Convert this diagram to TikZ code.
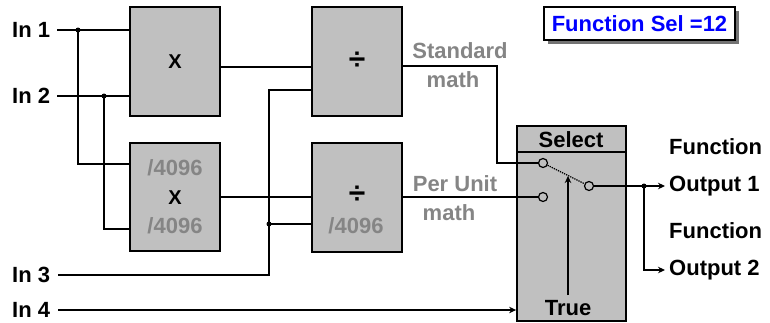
\documentclass[tikz,border=0pt]{standalone}
\usepackage{fontspec}
\setmainfont{Liberation Sans}
\usetikzlibrary{arrows.meta}
\definecolor{boxgray}{RGB}{192,192,192}
\definecolor{txtgray}{RGB}{133,133,133}
\definecolor{selblue}{RGB}{0,0,255}
\tikzset{
  wire/.style={line width=1.7pt, black},
  arr/.style={wire, -{Stealth[length=7pt,width=6.5pt]}},
  opbox/.style={draw=black, line width=1.8pt, fill=boxgray, minimum width=90pt, inner sep=0pt},
  lbl/.style={font=\fontsize{22}{22}\selectfont\bfseries, inner sep=0pt},
  glbl/.style={lbl, text=txtgray},
  dot/.style={circle, fill=black, inner sep=0pt, minimum size=5pt},
  contact/.style={circle, draw=black, line width=1.2pt, fill=boxgray, inner sep=0pt, minimum size=9pt},
}
\begin{document}
\begin{tikzpicture}[x=1pt,y=-1pt]
\useasboundingbox (0,0) rectangle (770,322);
% boxes
\node[opbox, minimum height=109pt] (X1) at (175,61.5) {};
\node[opbox, minimum height=108pt] (X2) at (175,197) {};
\node[opbox, minimum height=109pt] (D1) at (357,61.5) {};
\node[opbox, minimum height=109pt] (D2) at (357,197.5) {};
\node[opbox, minimum width=109pt, minimum height=195pt] (S) at (571.5,223.5) {};
\draw[line width=1.8pt] (517,152) -- (626,152);
% box texts
\node[lbl, font=\fontsize{20}{20}\selectfont\bfseries] (xa) at (175,62) {X};
\node[lbl, font=\fontsize{20}{20}\selectfont\bfseries] (xb) at (175,198) {X};
\node[glbl] (xb1) at (175,168) {/4096};
\node[glbl] (xb2) at (175,226) {/4096};
\node[lbl, font=\fontsize{30}{30}\selectfont\bfseries] (da) at (357,61) {÷};
\node[lbl, font=\fontsize{30}{30}\selectfont\bfseries] (db) at (357,195) {÷};
\node[glbl] (db2) at (356,226) {/4096};
\node[lbl] (sel) at (571,140) {Select};
\node[lbl] (tru) at (568,308) {True};
% inputs
\node[lbl, anchor=west] (in1) at (12,30) {In 1};
\node[lbl, anchor=west] (in2) at (12,96) {In 2};
\node[lbl, anchor=west] (in3) at (12,275) {In 3};
\node[lbl, anchor=west] (in4) at (12,310) {In 4};
\coordinate (s1) at (57,30);
\coordinate (s2) at (57,96);
\coordinate (s3) at (58,275);
\coordinate (s4) at (58,310);
\node[dot] (j1) at (78,30) {};
\node[dot] (j2) at (104,96) {};
\node[dot] (j3) at (269,224) {};
\draw[wire] (s1) -- (X1.west |- s1);
\draw[wire] (s2) -- (X1.west |- s2);
\draw[wire] (j1.center) -- (78,164) -- (X2.west |- 0,164);
\draw[wire] (j2.center) -- (104,229) -- (X2.west |- 0,229);
\draw[wire] (X1.east |- 0,67) -- (D1.west |- 0,67);
\draw[wire] (X2.east |- 0,197) -- (D2.west |- 0,197);
\draw[wire] (s3) -- (269,275) -- (269,90) -- (D1.west |- 0,90);
\draw[wire] (j3.center) -- (D2.west |- j3);
% select internals
\node[contact] (c1) at (543,163) {};
\node[contact] (c2) at (543,197) {};
\node[contact] (co) at (589,186) {};
\draw[wire] (D1.east |- 0,66) -- (497,66) -- (497,163) -- (c1.west);
\draw[wire] (D2.east |- 0,197) -- (c2.west);
\draw[line width=1.3pt, densely dotted] (c1) -- (co);
\draw[arr] (568,295) -- (568,176);
\draw[arr] (s4) -- (S.west |- s4);
% outputs
\node[lbl, anchor=west] (f1) at (669,147) {Function};
\node[lbl, anchor=west] (o1) at (669,186) {Output 1};
\node[lbl, anchor=west] (f2) at (669,231) {Function};
\node[lbl, anchor=west] (o2) at (669,270) {Output 2};
\coordinate (e1) at (665,186);
\coordinate (e2) at (665,270);
\node[dot] (j4) at (644,186) {};
\draw[arr] (co.east) -- (e1);
\draw[arr] (j4.center) -- (644,270) -- (e2);
% labels
\node[glbl] (std) at (460,51) {Standard};
\node[glbl] (m1) at (453,80) {math};
\node[glbl] (pu) at (455,184) {Per Unit};
\node[glbl] (m2) at (449,213) {math};
% function sel box
\fill[black!55] (548,11) rectangle (739,44);
\node[draw=black, line width=1.8pt, fill=white, minimum width=191pt, minimum height=33pt, inner sep=0pt,
  font=\fontsize{22}{22}\selectfont\bfseries, text=selblue] (fs) at (639.5,23.5) {Function Sel =12};
\end{tikzpicture}
\end{document}
